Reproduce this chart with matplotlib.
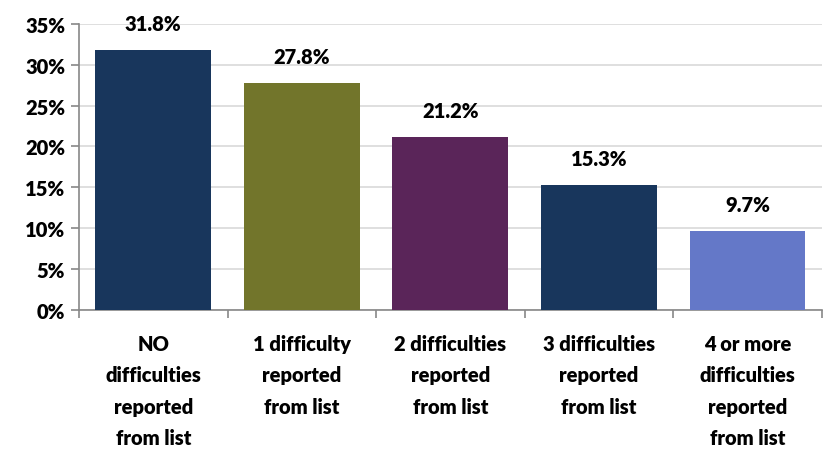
import matplotlib.pyplot as plt
import numpy as np
from matplotlib.ticker import MultipleLocator, FuncFormatter

categories = ['NO\ndifficulties\nreported\nfrom list', '1 difficulty\nreported\nfrom list',
              '2 difficulties\nreported\nfrom list', '3 difficulties\nreported\nfrom list',
              '4 or more\ndifficulties\nreported\nfrom list']
values = [31.8, 27.8, 21.2, 15.3, 9.7]
colors = ['#18365C', '#72752B', '#5A2559', '#18365C', '#6478C8']

plt.rcParams['font.family'] = ['Lato', 'DejaVu Sans']
plt.rcParams['font.weight'] = 'bold'

fig = plt.figure(figsize=(8.28, 4.52), dpi=100)
ax = fig.add_axes([0.0954, 0.312, 0.897, 0.633])

x = np.arange(len(values))
ax.bar(x, values, width=0.78, color=colors, zorder=3)
for xi, v in zip(x, values):
    ax.text(xi, v + 2.1, f'{v:.1f}%', ha='center', va='bottom', fontsize=14.5, fontweight='heavy')

ax.set_xlim(-0.5, len(values) - 0.5)
ax.set_ylim(0, 35)
ax.yaxis.set_major_locator(MultipleLocator(5))
ax.yaxis.set_major_formatter(FuncFormatter(lambda v, p: f'{v:.0f}%'))
ax.grid(axis='y', color='#D9D9D9', linewidth=1.2, zorder=0)

ax.set_xticks(x)
ax.set_xticklabels(categories, fontsize=14.5, fontweight='heavy', linespacing=1.78)
ax.tick_params(axis='x', length=0, pad=17)
ax.set_xticks(np.arange(-0.5, len(values)), minor=True)
ax.tick_params(axis='x', which='minor', length=6, color='#888888', width=1.2)
ax.tick_params(axis='y', length=6, color='#888888', width=1.2, labelsize=14.5, pad=4)
for t in ax.get_yticklabels():
    t.set_fontweight('heavy')

for s in ['top', 'right']:
    ax.spines[s].set_visible(False)
for s in ['left', 'bottom']:
    ax.spines[s].set_color('#888888')
    ax.spines[s].set_linewidth(1.2)

fig.savefig('out.png', dpi=100)
